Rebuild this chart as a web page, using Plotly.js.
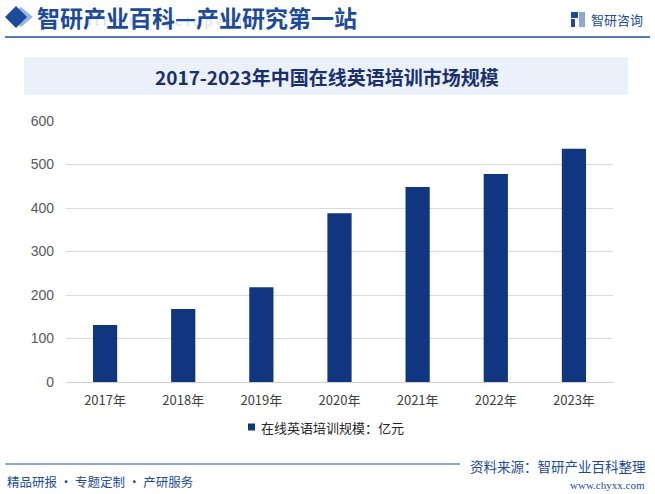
<!DOCTYPE html>
<html><head><meta charset="utf-8">
<script src="https://cdn.plot.ly/plotly-3.0.1.min.js"></script>
<style>html,body{margin:0;padding:0;background:#fff}#c{width:655px;height:494px}</style>
</head><body><div id="c"></div>
<script>
const categories = ['2017年','2018年','2019年','2020年','2021年','2022年','2023年'];
const values = [131, 168, 218, 388, 448, 478, 536];
const seriesName = '在线英语培训规模：亿元';
const chartTitle = '2017-2023年中国在线英语培训市场规模';
const headerText = '智研产业百科—产业研究第一站';
const sourceText = '资料来源：智研产业百科整理';
const sloganText = '精品研报 · 专题定制 · 产研服务';
const siteText = 'www.chyxx.com';
const logoText = '智研咨询';

const W = 655, H = 494, L = 66, R = 613, T = 121, B = 382;
const px = x => (x - L) / (R - L);
const py = y => (B - y) / (B - T);
const blue = '#113680';
const cjk = '"Noto Sans CJK SC", "Noto Sans", sans-serif';

const shapes = [
  {type:'path', xref:'paper', yref:'paper', path:`M ${px(21)} ${py(7)} L ${px(33)} ${py(17)} L ${px(21)} ${py(27)} L ${px(9)} ${py(17)} Z`, fillcolor:'#9db4dd', line:{width:0}},
  {type:'path', xref:'paper', yref:'paper', path:`M ${px(16)} ${py(6)} L ${px(27)} ${py(17)} L ${px(16)} ${py(28)} L ${px(5)} ${py(17)} Z`, fillcolor:'#1d4b9b', line:{width:0}},
  {type:'line', xref:'paper', yref:'paper', x0:px(5), x1:px(650), y0:py(37), y1:py(37), line:{color:'#1f4fa0', width:1.5}},
  {type:'rect', xref:'paper', yref:'paper', x0:px(24), x1:px(628), y0:py(57), y1:py(95), fillcolor:'#eaf1fb', line:{width:0}, layer:'below'},
  {type:'line', xref:'paper', yref:'paper', x0:px(5), x1:px(460), y0:py(464), y1:py(464), line:{color:'#1f4fa0', width:1.2}},
  {type:'rect', xref:'paper', yref:'paper', x0:px(571), x1:px(578), y0:py(12), y1:py(18), fillcolor:'#1d4b9b', line:{width:0}},
  {type:'rect', xref:'paper', yref:'paper', x0:px(571), x1:px(575), y0:py(19), y1:py(27), fillcolor:'#1d4b9b', line:{width:0}},
  {type:'rect', xref:'paper', yref:'paper', x0:px(579), x1:px(585), y0:py(12), y1:py(27), fillcolor:'#8ea8d6', line:{width:0}},
  // legend swatch
  {type:'rect', xref:'paper', yref:'paper', x0:px(248), x1:px(255), y0:py(423.5), y1:py(430.5), fillcolor:blue, line:{width:0}},
];

const annotations = [
  {text:'I n d u s t r y   E n c y c l o p e d i a', xref:'paper', yref:'paper', x:px(40), y:py(21), xanchor:'left', yanchor:'middle', showarrow:false, font:{family:'Liberation Sans', size:13, color:'rgba(180,200,230,0.45)', weight:'bold'}},
  {text:headerText, xref:'paper', yref:'paper', x:px(35), y:py(17), xanchor:'left', yanchor:'middle', showarrow:false, font:{family:cjk, size:23, color:'#1d4b9b', weight:'bold'}},
  {text:logoText, xref:'paper', yref:'paper', x:px(589), y:py(19), xanchor:'left', yanchor:'middle', showarrow:false, font:{family:cjk, size:13, color:'#1d4b9b'}},
  {text:chartTitle, xref:'paper', yref:'paper', x:px(327), y:py(76), xanchor:'center', yanchor:'middle', showarrow:false, font:{family:cjk, size:19, color:'#1a2f6e', weight:'bold'}},
  {text:seriesName, xref:'paper', yref:'paper', x:px(259), y:py(427), xanchor:'left', yanchor:'middle', showarrow:false, font:{family:cjk, size:13, color:'#262626'}},
  {text:sourceText, xref:'paper', yref:'paper', x:px(648), y:py(466), xanchor:'right', yanchor:'middle', showarrow:false, font:{family:cjk, size:13.5, color:'#1d4b9b'}},
  {text:sloganText, xref:'paper', yref:'paper', x:px(5), y:py(481), xanchor:'left', yanchor:'middle', showarrow:false, font:{family:cjk, size:12.5, color:'#1d4b9b'}},
  {text:siteText, xref:'paper', yref:'paper', x:px(647), y:py(485), xanchor:'right', yanchor:'middle', showarrow:false, font:{family:'Liberation Serif', size:11, color:'#1d4b9b'}},
];

const data = [{
  type:'bar', x:categories, y:values, name:seriesName,
  marker:{color:blue}, showlegend:false, hoverinfo:'x+y'
}];

const layout = {
  width:W, height:H,
  margin:{l:L, r:W-R, t:T, b:H-B, pad:0},
  paper_bgcolor:'#fff', plot_bgcolor:'rgba(0,0,0,0)',
  bargap:0.69, showlegend:false,
  font:{family:'"Liberation Sans Narrow", "Liberation Sans", sans-serif', color:'#595959', size:13},
  xaxis:{type:'category', showgrid:false, showline:false, ticks:'', zeroline:false,
         tickfont:{family:'"Liberation Sans Narrow", '+cjk, size:13, color:'#404040'}, ticklabelstandoff:9},
  yaxis:{range:[0,600], dtick:100, showgrid:true, gridcolor:'#d9d9d9', gridwidth:1,
         zeroline:true, zerolinecolor:'#d0d0d0', zerolinewidth:1, showline:false, ticks:'',
         tickfont:{family:'"Liberation Sans Narrow", "Liberation Sans", sans-serif', size:14, color:'#595959'}, ticklabelstandoff:11},
  shapes:shapes, annotations:annotations
};

Plotly.newPlot('c', data, layout, {displayModeBar:false, staticPlot:true});
</script></body></html>
